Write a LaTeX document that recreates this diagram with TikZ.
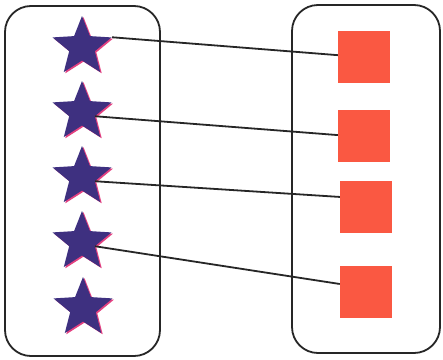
\documentclass[tikz,border=0pt]{standalone}
\usetikzlibrary{shapes.geometric}

\definecolor{starblue}{RGB}{62,48,128}
\definecolor{starpink}{RGB}{228,64,128}
\definecolor{boxred}{RGB}{250,88,66}

\tikzset{
  setbox/.style={draw=black!85, line width=1.8pt, rounded corners=26pt},
  starnode/.style={star, star points=5, star point ratio=2.3, minimum size=62pt,
    inner sep=0pt, fill=starblue,
    preaction={fill=starpink, transform canvas={xshift=1.5pt, yshift=-1.2pt}}},
  sqnode/.style={rectangle, minimum size=52pt, inner sep=0pt, fill=boxred},
  link/.style={draw=black!85, line width=1.8pt}
}

\begin{document}
\begin{tikzpicture}[x=1pt, y=-1pt]
\useasboundingbox (0,0) rectangle (443,359);
\fill[white] (0,0) rectangle (443,359);
% the two sets
\draw[setbox] (5,6) rectangle (160,356);
\draw[setbox] (292,5) rectangle (440,353);
% squares
\node[sqnode] (q1) at (364,57) {};
\node[sqnode] (q2) at (364,136) {};
\node[sqnode] (q3) at (366,207) {};
\node[sqnode] (q4) at (366,292) {};
% stars
\node[starnode] (s1) at (82,47) {};
\node[starnode] (s2) at (82,112) {};
\node[starnode] (s3) at (82,177) {};
\node[starnode] (s4) at (82,242) {};
\node[starnode] (s5) at (83,308) {};
% links
\draw[link] (s1.outer point 5) -- (q1.176);
\draw[link] (s2.inner point 4) -- (q2.178);
\draw[link] (s3.inner point 4) -- (q3.159);
\draw[link] (s4.inner point 4) -- (q4.163);
\end{tikzpicture}
\end{document}
